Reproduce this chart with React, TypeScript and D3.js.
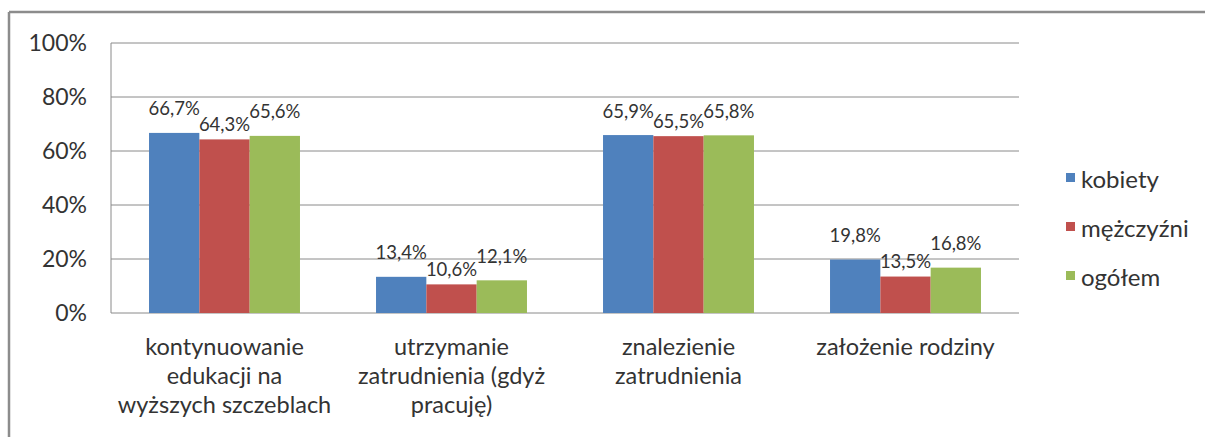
import React from "react";
import * as d3 from "d3";

const categories: string[][] = [
  ["kontynuowanie", "edukacji na", "wyższych szczeblach"],
  ["utrzymanie", "zatrudnienia (gdyż", "pracuję)"],
  ["znalezienie", "zatrudnienia"],
  ["założenie rodziny"],
];
const seriesNames = ["kobiety", "mężczyźni", "ogółem"];
const kobiety = [66.7, 13.4, 65.9, 19.8];
const mezczyzni = [64.3, 10.6, 65.5, 13.5];
const ogolem = [65.6, 12.1, 65.8, 16.8];
const yTicks = [0, 20, 40, 60, 80, 100];

const colors = ["#4F81BD", "#C0504D", "#9BBB59"];
const labelOffsets = [24, 15, 24];

const W = 1205;
const H = 437;
const FONT = "Lato, 'Open Sans', sans-serif";

export default function App() {
  const values = [kobiety, mezczyzni, ogolem];
  const catIdx = categories.map((_, i) => String(i));
  const x0 = d3.scaleBand<string>().domain(catIdx).range([111, 1019]).paddingInner(0.335).paddingOuter(0.1675);
  const x1 = d3.scaleBand<string>().domain(seriesNames).range([0, x0.bandwidth()]).padding(0);
  const y = d3.scaleLinear().domain([0, 100]).range([313, 43]);
  const fmt = (v: number) => v.toFixed(1).replace(".", ",") + "%";

  return (
    <svg width={W} height={H} style={{ position: "absolute", left: 0, top: 0, background: "#fff" }} fontFamily={FONT}>
      <rect x={0} y={0} width={W} height={H} fill="#fff" />
      {/* outer border */}
      <line x1={9} x2={W} y1={12} y2={12} stroke="#8c8c8c" strokeWidth={2.5} />
      <line x1={9} x2={9} y1={12} y2={H} stroke="#8c8c8c" strokeWidth={2.5} />
      {/* gridlines */}
      {yTicks.map((t) => (
        <line key={t} x1={111} x2={1019} y1={y(t)} y2={y(t)} stroke="#8a8a8a" strokeWidth={1} />
      ))}
      <line x1={111} x2={111} y1={y(100)} y2={y(0)} stroke="#8a8a8a" strokeWidth={1} />
      {yTicks.map((t) => (
        <text key={"l" + t} x={87} y={y(t)} dy="0.35em" textAnchor="end" fontSize={23} fill="#333">
          {t + "%"}
        </text>
      ))}
      {/* bars */}
      {categories.map((_, ci) =>
        seriesNames.map((s, si) => {
          const v = values[si][ci];
          const bx = (x0(String(ci)) as number) + (x1(s) as number);
          return (
            <rect key={ci + "-" + si} x={bx} y={y(v)} width={x1.bandwidth()} height={y(0) - y(v)} fill={colors[si]} />
          );
        })
      )}
      {categories.map((_, ci) =>
        seriesNames.map((s, si) => {
          const v = values[si][ci];
          const cx = (x0(String(ci)) as number) + (x1(s) as number) + x1.bandwidth() / 2;
          return (
            <text key={"t" + ci + "-" + si} x={cx} y={y(v) - labelOffsets[si]} dy="0.35em" textAnchor="middle" fontSize={18.5} fill="#333">
              {fmt(v)}
            </text>
          );
        })
      )}
      {/* category labels */}
      {categories.map((lines, ci) => {
        const cx = (x0(String(ci)) as number) + x0.bandwidth() / 2;
        return (
          <text key={"c" + ci} x={cx} textAnchor="middle" fontSize={23.5} fill="#333">
            {lines.map((ln, li) => (
              <tspan key={li} x={cx} y={355 + li * 29}>
                {ln}
              </tspan>
            ))}
          </text>
        );
      })}
      {/* legend */}
      {seriesNames.map((s, si) => (
        <g key={"lg" + s}>
          <rect x={1066} y={173 + si * 49} width={9} height={9} fill={colors[si]} />
          <text x={1081} y={188 + si * 49} fontSize={24} fill="#333">
            {s}
          </text>
        </g>
      ))}
    </svg>
  );
}
